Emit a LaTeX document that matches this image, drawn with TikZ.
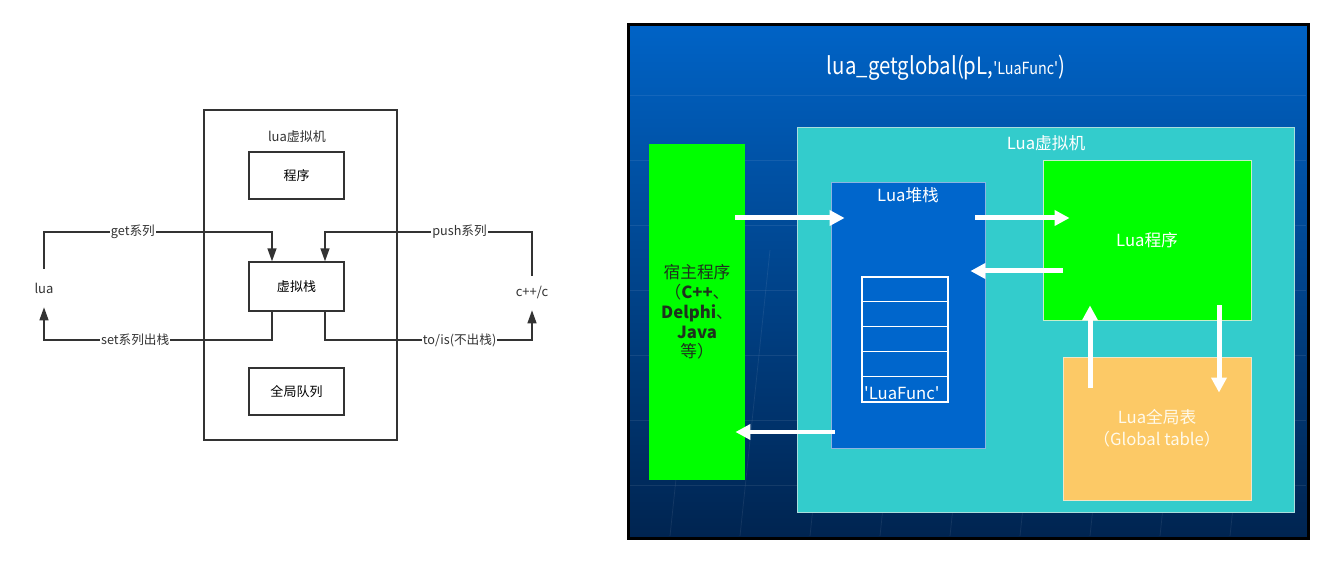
\documentclass[tikz,border=0pt]{standalone}
\usepackage{fontspec}
\setmainfont{Noto Sans CJK SC}
\usetikzlibrary{arrows.meta,shadings}

\definecolor{linegray}{HTML}{333333}
\definecolor{slidetop}{RGB}{0,99,198}
\definecolor{slidemid}{RGB}{0,78,158}
\definecolor{slidebot}{RGB}{0,36,80}
\definecolor{vmcyan}{HTML}{33CCCC}
\definecolor{vmedge}{RGB}{170,221,221}
\definecolor{stackblue}{HTML}{0066CC}
\definecolor{stackedge}{RGB}{140,180,225}
\definecolor{hostgreen}{HTML}{00FF00}
\definecolor{hosttext}{RGB}{30,50,30}
\definecolor{progedge}{RGB}{200,240,200}
\definecolor{tableorange}{HTML}{FCC966}
\definecolor{tableedge}{RGB}{240,230,200}
\definecolor{tabletext}{RGB}{255,250,235}

\tikzset{
  box/.style={draw=linegray, line width=0.8pt, inner sep=0pt, font=\fontsize{7.4}{9}\selectfont},
  plain/.style={inner sep=0pt, font=\fontsize{7.4}{9}\selectfont, text=linegray},
  lbl/.style={fill=white, inner sep=0.5pt, font=\fontsize{7.2}{9}\selectfont, text=linegray},
  flow/.style={draw=linegray, line width=0.8pt, -{Triangle[length=0.26cm,width=0.18cm]}},
  slidebox/.style={inner sep=0pt, line width=0.5pt},
  slidetext/.style={text=white, font=\fontsize{9.5}{11}\selectfont},
  bigarrow/.style={draw=white, line width=0.1cm, -{Triangle[length=0.3cm,width=0.3cm]}}
}

\begin{document}
\begin{tikzpicture}[x=0.02cm,y=-0.02cm]

  \useasboundingbox (0,0) rectangle (1333,564);

  % left: hand drawn sketch
  \node[box, minimum width=3.86cm, minimum height=6.6cm] (vm) at (300.5,275) {};
  \node[plain] (vmlabel) at (297,137) {lua虚拟机};
  \node[box, minimum width=1.9cm, minimum height=0.94cm] (prog) at (296.5,175.5) {程序};
  \node[box, minimum width=1.9cm, minimum height=0.98cm] (vstack) at (296.5,286.5) {虚拟栈};
  \node[box, minimum width=1.9cm, minimum height=0.94cm] (gq) at (296.5,391.5) {全局队列};
  \node[plain, minimum height=0.76cm] (lua) at (44,288) {lua};
  \node[plain, minimum height=0.68cm] (cpp) at (532,293) {c++/c};

  \coordinate (top) at (0,232);
  \coordinate (bot) at (0,340);

  \draw[flow] (lua.north) -- (lua.north |- top)
    -- node[lbl,pos=0.39] {get系列} ([xshift=-0.49cm]vstack.north |- top)
    -- ([xshift=-0.49cm]vstack.north);
  \draw[flow] (cpp.north) -- (cpp.north |- top)
    -- node[lbl,pos=0.35] {push系列} ([xshift=0.57cm]vstack.north |- top)
    -- ([xshift=0.57cm]vstack.north);
  \draw[flow] ([xshift=-0.49cm]vstack.south) -- ([xshift=-0.49cm]vstack.south |- bot)
    -- node[lbl,pos=0.6] {set系列出栈} (lua.south |- bot)
    -- (lua.south);
  \draw[flow] ([xshift=0.57cm]vstack.south) -- ([xshift=0.57cm]vstack.south |- bot)
    -- node[lbl,pos=0.65] {to/is(不出栈)} (cpp.south |- bot)
    -- (cpp.south);

  % right: slide
  \shade[top color=slidetop, middle color=slidemid, bottom color=slidebot]
    (628,25) rectangle (1308,538);
  \foreach \y in {95,160,225,290,355,420,485}
    \draw[white, opacity=0.08] (630,\y) -- (1306,\y);
  \foreach \x in {700,770,840,910,980,1050,1120,1190,1260}
    \draw[white, opacity=0.08] (\x,250) -- (\x-30,536);
  \draw[black, line width=0.06cm] (628,25) rectangle (1308,538);

  \node[text=white, font=\fontsize{13.5}{15}\selectfont, xscale=0.86] (title) at (946,68)
    {lua\_getglobal(pL,{\fontsize{9.5}{10}\selectfont\textquotesingle LuaFunc\textquotesingle})};

  \node[slidebox, draw=vmedge, fill=vmcyan, minimum width=9.94cm, minimum height=7.7cm] (vmbox) at (1045.5,319.5) {};
  \node[slidetext] (vmtitle) at (1046,143) {Lua虚拟机};

  \node[slidebox, fill=hostgreen, minimum width=1.92cm, minimum height=6.72cm, align=center,
    text=hosttext, font=\fontsize{9.5}{11.3}\selectfont] (host) at (697,312)
    {宿主程序\\（\textbf{C++}、\\\textbf{Delphi}、\\\textbf{Java}\\等）};

  \node[slidebox, draw=stackedge, fill=stackblue, minimum width=3.08cm, minimum height=5.32cm] (hoststack) at (908,315) {};
  \node[slidetext] (stacktitle) at (908,195) {Lua堆栈};

  \node[slidebox, draw=white, line width=1pt, minimum width=1.72cm, minimum height=2.5cm] (cells) at (905,339.5) {};
  \foreach \r in {1,...,4}
    \draw[white, line width=0.6pt] (cells.north west) ++(0,25*\r) -- ++(86,0);
  \node[slidetext, anchor=south west, inner sep=1.5pt] (func) at (cells.south west) {\textquotesingle LuaFunc\textquotesingle};

  \node[slidebox, draw=progedge, fill=hostgreen, minimum width=4.16cm, minimum height=3.2cm, slidetext] (luaprog) at (1147,240) {Lua程序};

  \node[slidebox, draw=tableedge, fill=tableorange, minimum width=3.76cm, minimum height=2.86cm,
    align=center, text=tabletext, font=\fontsize{9.5}{12.5}\selectfont] (gtable) at (1157,428.5)
    {Lua全局表\\（Global table）};

  \draw[bigarrow] ([xshift=-0.2cm]host.east |- 0,218) -- ([xshift=0.28cm]hoststack.west |- 0,218);
  \draw[bigarrow] ([xshift=-0.2cm]hoststack.east |- 0,218) -- ([xshift=0.54cm]luaprog.west |- 0,218);
  \draw[bigarrow] ([xshift=0.4cm]luaprog.west |- 0,271) -- ([xshift=-0.3cm]hoststack.east |- 0,271);
  \draw[bigarrow] ([xshift=0.08cm]hoststack.west |- 0,432) -- ([xshift=-0.2cm]host.east |- 0,432);
  \draw[bigarrow] ([yshift=-0.62cm]gtable.north -| 1090,0) -- ([yshift=0.3cm]luaprog.south -| 1090,0);
  \draw[bigarrow] ([yshift=0.3cm]luaprog.south -| 1219,0) -- ([yshift=-0.72cm]gtable.north -| 1219,0);

\end{tikzpicture}
\end{document}
